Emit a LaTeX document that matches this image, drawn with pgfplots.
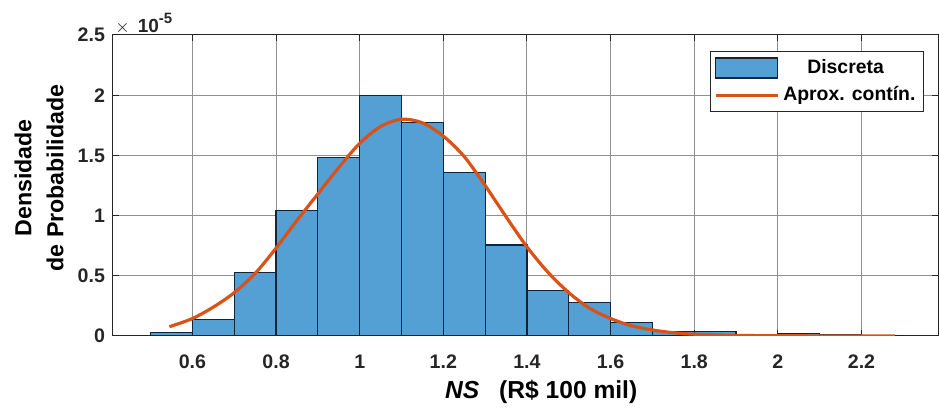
\documentclass[border=0pt]{standalone}
\usepackage{pgfplots}
\pgfplotsset{compat=1.18}
\usepackage{fontspec}
\setmainfont{Liberation Sans}
\definecolor{barblue}{RGB}{84,160,213}
\definecolor{baredge}{RGB}{20,35,55}
\definecolor{curveorange}{RGB}{217,83,25}
\definecolor{gridgray}{RGB}{145,145,145}
\definecolor{axgray}{RGB}{38,38,38}

\begin{document}
\begin{tikzpicture}
\begin{axis}[
  scale only axis,
  width=412.5pt, height=150.5pt,
  xmin=0.41, xmax=2.383, ymin=0, ymax=2.5,
  xtick={0.6,0.8,1,1.2,1.4,1.6,1.8,2,2.2},
  ytick={0,0.5,1,1.5,2,2.5},
  grid=major,
  major grid style={gridgray, line width=0.5pt},
  tick align=inside,
  major tick length=3pt,
  axis line style={axgray, line width=0.5pt},
  tick style={axgray, line width=0.5pt},
  /pgf/number format/assume math mode=true,
  tick label style={font=\bfseries\fontsize{9.8}{11}\selectfont, text=axgray},
  xticklabel style={yshift=-6pt},
  yticklabel style={xshift=-0.5pt},
  xlabel={\textbf{\textit{NS}}\hspace{10pt}\textbf{(R\$ 100 mil)}},
  xlabel style={at={(axis description cs:0.519,0)}, anchor=center, yshift=-28pt,
    font=\fontsize{12.3}{14}\selectfont, text=black},
  ylabel={Densidade\\de Probabilidade},
  ylabel style={at={(axis description cs:0,0.525)}, anchor=center, yshift=37pt,
    align=center, font=\bfseries\fontsize{11.6}{16}\selectfont, text=black},
  legend style={at={(0.983,0.947)}, anchor=north east, draw=axgray, line width=0.5pt,
    font=\bfseries\fontsize{9.7}{11}\selectfont, cells={anchor=west},
    row sep=1pt, inner xsep=2pt, inner ysep=2pt},
]
\addplot[ybar interval, fill=barblue, draw=baredge, line width=0.6pt,
  legend image code/.code={\draw[fill=barblue, draw=baredge, line width=0.6pt] (0pt,-5pt) rectangle (31pt,5pt);}]
  coordinates {
  (0.5,0.03) (0.6,0.14) (0.7,0.525) (0.8,1.04) (0.9,1.48) (1.0,2.0)
  (1.1,1.77) (1.2,1.36) (1.3,0.755) (1.4,0.38) (1.5,0.28) (1.6,0.11)
  (1.7,0.04) (1.8,0.04) (1.9,0.006) (2.0,0.022) (2.1,0.008) (2.2,0.006)
  (2.3,0)
  };
\addlegendentry{\hspace{12pt}Discreta}
\addplot[smooth, curveorange, line width=1.6pt,
  legend image code/.code={\draw[curveorange, line width=1.6pt] (0pt,0pt) -- (31pt,0pt);}]
  coordinates {
  (0.545,0.077) (0.6,0.145) (0.65,0.24) (0.7,0.36) (0.75,0.52) (0.8,0.73)
  (0.85,0.96) (0.9,1.18) (0.95,1.40) (1.0,1.60) (1.05,1.74) (1.1,1.80)
  (1.15,1.77) (1.2,1.66) (1.25,1.49) (1.3,1.25) (1.35,0.99) (1.4,0.74)
  (1.45,0.53) (1.5,0.36) (1.55,0.23) (1.6,0.145) (1.65,0.085) (1.7,0.05)
  (1.75,0.027) (1.8,0.015) (1.9,0.005) (2.0,0.002) (2.1,0.001) (2.28,0.0)
  };
\addlegendentry{Aprox. contín.}
\coordinate (topleft) at (rel axis cs:0,1);
\coordinate (botright) at (rel axis cs:1,0);
\end{axis}
\node[anchor=base west, inner sep=0pt, text=axgray, xshift=1pt, yshift=1.2pt]
  at (topleft) {\fontsize{9.5}{11}\selectfont $\times$\hspace{4pt}\textbf{10}\raisebox{4.5pt}{\fontsize{7.5}{8}\selectfont\textbf{-5}}};
\pgfresetboundingbox
\path[use as bounding box] ([shift={(-56.5pt,17.5pt)}]topleft) rectangle ([shift={(0.5pt,-36.5pt)}]botright);
\end{tikzpicture}
\end{document}
